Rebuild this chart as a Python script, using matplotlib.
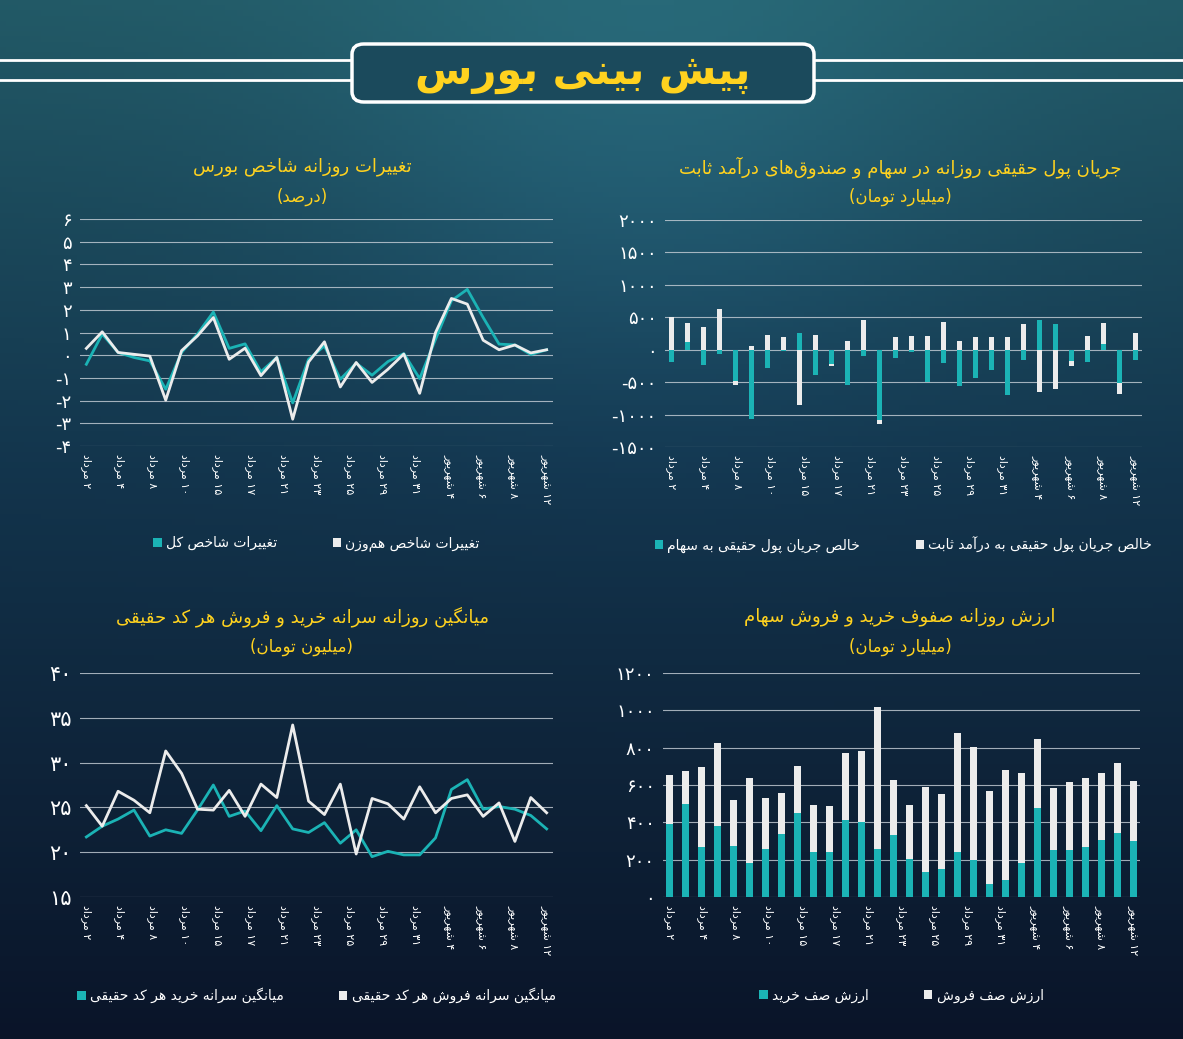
import numpy as np
import matplotlib
matplotlib.use("Agg")
import matplotlib.pyplot as plt
from matplotlib.patches import FancyBboxPatch, Patch

# ---------------- data ----------------
x_labels = ["۲ مرداد", "۴ مرداد", "۸ مرداد", "۱۰ مرداد", "۱۵ مرداد", "۱۷ مرداد", "۲۱ مرداد",
            "۲۳ مرداد", "۲۵ مرداد", "۲۹ مرداد", "۳۱ مرداد", "۴ شهریور", "۶ شهریور", "۸ شهریور", "۱۲ شهریور"]

idx_total = [-0.4, 0.93, 0.12, -0.1, -0.25, -1.5, 0.12, 0.93, 1.9, 0.3, 0.5, -0.73, -0.1, -2.1, -0.18,
             0.41, -1.06, -0.35, -0.88, -0.28, 0.07, -1.03, 0.7, 2.4, 2.9, 1.66, 0.49, 0.45, 0.03, 0.24]
idx_equal = [0.3, 1.03, 0.12, 0.04, -0.04, -1.98, 0.2, 0.85, 1.66, -0.18, 0.31, -0.9, -0.1, -2.82, -0.3,
             0.59, -1.4, -0.32, -1.2, -0.62, 0.05, -1.68, 1.0, 2.5, 2.25, 0.66, 0.24, 0.45, 0.1, 0.24]

flow_equity = [-190, 125, -230, -65, -475, -1065, -275, -20, 250, -395, -215, -545, -100, -1080, -130,
               -30, -500, -205, -565, -440, -320, -695, -155, 465, 400, -180, -190, 90, -515, -155]
flow_fixed = [500, 410, 355, 630, -540, 50, 225, 200, -855, 230, -250, 140, 460, -1150, 200,
              210, 210, 420, 140, 195, 195, 200, 400, -655, -610, -245, 215, 410, -680, 255]

buy_pc = [21.7, 22.9, 23.7, 24.7, 21.8, 22.5, 22.1, 24.7, 27.5, 24.0, 24.6, 22.4, 25.2, 22.6, 22.2,
          23.3, 21.0, 22.5, 19.5, 20.1, 19.7, 19.7, 21.6, 27.0, 28.1, 24.8, 25.1, 24.8, 24.1, 22.6]
sell_pc = [25.2, 22.9, 26.8, 25.8, 24.4, 31.3, 28.8, 24.8, 24.7, 26.9, 24.0, 27.6, 26.1, 34.2, 25.7,
           24.2, 27.6, 19.8, 26.0, 25.4, 23.7, 27.3, 24.4, 26.0, 26.4, 24.0, 25.5, 21.2, 26.1, 24.4]

queue_buy = [390, 500, 270, 380, 275, 180, 255, 340, 450, 240, 240, 410, 400, 255, 330,
             205, 135, 150, 240, 200, 70, 90, 180, 475, 250, 250, 270, 305, 345, 300]
queue_sell = [265, 175, 425, 445, 245, 455, 275, 215, 250, 255, 250, 360, 380, 765, 295,
              290, 455, 400, 640, 605, 500, 590, 485, 370, 335, 365, 365, 360, 375, 320]

TEAL = "#1bb3b5"
WHITE = "#ececec"
YELLOW = "#ffd21f"

# ---------------- simple Persian shaping ----------------
FORMS = {
    'ا': (0xFE8D, 0xFE8E, None, None), 'آ': (0xFE81, 0xFE82, None, None),
    'ب': (0xFE8F, 0xFE90, 0xFE91, 0xFE92), 'پ': (0xFB56, 0xFB57, 0xFB58, 0xFB59),
    'ت': (0xFE95, 0xFE96, 0xFE97, 0xFE98), 'ث': (0xFE99, 0xFE9A, 0xFE9B, 0xFE9C),
    'ج': (0xFE9D, 0xFE9E, 0xFE9F, 0xFEA0), 'ح': (0xFEA1, 0xFEA2, 0xFEA3, 0xFEA4),
    'خ': (0xFEA5, 0xFEA6, 0xFEA7, 0xFEA8), 'د': (0xFEA9, 0xFEAA, None, None),
    'ر': (0xFEAD, 0xFEAE, None, None), 'ز': (0xFEAF, 0xFEB0, None, None),
    'س': (0xFEB1, 0xFEB2, 0xFEB3, 0xFEB4), 'ش': (0xFEB5, 0xFEB6, 0xFEB7, 0xFEB8),
    'ص': (0xFEB9, 0xFEBA, 0xFEBB, 0xFEBC), 'غ': (0xFECD, 0xFECE, 0xFECF, 0xFED0),
    'ف': (0xFED1, 0xFED2, 0xFED3, 0xFED4), 'ق': (0xFED5, 0xFED6, 0xFED7, 0xFED8),
    'ک': (0xFB8E, 0xFB8F, 0xFB90, 0xFB91), 'گ': (0xFB92, 0xFB93, 0xFB94, 0xFB95),
    'ل': (0xFEDD, 0xFEDE, 0xFEDF, 0xFEE0),
    'م': (0xFEE1, 0xFEE2, 0xFEE3, 0xFEE4), 'ن': (0xFEE5, 0xFEE6, 0xFEE7, 0xFEE8),
    'و': (0xFEED, 0xFEEE, None, None), 'ه': (0xFEE9, 0xFEEA, 0xFEEB, 0xFEEC),
    'ی': (0xFBFC, 0xFBFD, 0xFBFE, 0xFBFF),
}
MIRROR = {'(': ')', ')': '('}


def fa(s):
    out = []
    n = len(s)
    for i, c in enumerate(s):
        if c not in FORMS:
            if c != '\u200c':
                out.append(MIRROR.get(c, c))
            continue
        f = FORMS[c]
        prev = s[i - 1] if i > 0 else ''
        nxt = s[i + 1] if i + 1 < n else ''
        jp = prev in FORMS and FORMS[prev][2] is not None
        jn = f[2] is not None and nxt in FORMS
        if jp and jn:
            code = f[3]
        elif jp:
            code = f[1]
        elif jn:
            code = f[2]
        else:
            code = f[0]
        out.append(chr(code))
    out = out[::-1]
    res, run = [], []
    for ch in out:
        if '\u06f0' <= ch <= '\u06f9' or ch.isdigit():
            run.append(ch)
        else:
            res.extend(run[::-1]); run = []
            res.append(ch)
    res.extend(run[::-1])
    return ''.join(res)


def fanum(v):
    s = str(int(v)) if float(v).is_integer() else str(v)
    return s.translate(str.maketrans('0123456789', '۰۱۲۳۴۵۶۷۸۹'))


plt.rcParams['font.family'] = 'DejaVu Sans'

W, H = 1183, 1039
fig = plt.figure(figsize=(W / 100, H / 100), dpi=100)

# background gradient
bg = fig.add_axes([0, 0, 1, 1])
yy, xx = np.mgrid[0:1:200j, 0:1:200j]
top = np.array([40, 105, 120]) / 255
mid = np.array([22, 62, 90]) / 255
bot = np.array([12, 24, 48]) / 255
t = yy[..., None]
img = np.where(t < 0.45, top + (mid - top) * (t / 0.45), mid + (bot - mid) * ((t - 0.45) / 0.55))
img = img * (0.85 + 0.2 * np.exp(-((xx[..., None] - 0.55) ** 2 + (yy[..., None] - 0.15) ** 2) / 0.08))
img = np.clip(img, 0, 1)
bg.imshow(img, aspect='auto', extent=[0, 1, 1, 0])
bg.set_xlim(0, 1); bg.set_ylim(1, 0)
bg.axis('off')

# header
for yl in (60, 80):
    bg.plot([0, 350 / W], [yl / H, yl / H], color='white', lw=2)
    bg.plot([815 / W, 1], [yl / H, yl / H], color='white', lw=2)
box = FancyBboxPatch((352 / W, 44 / H), 462 / W, 58 / H, boxstyle="round,pad=0,rounding_size=0.01",
                     fc="#1b4a5c", ec='white', lw=2.5, transform=bg.transData)
bg.add_patch(box)
fig.text(583 / W, 1 - 73 / H, fa("پیش بینی بورس"), color=YELLOW, fontsize=30, fontweight='bold',
         ha='center', va='center')


def px_axes(l, t_, r, b):
    return fig.add_axes([l / W, 1 - b / H, (r - l) / W, (b - t_) / H])


def style(ax, ylim, yticks):
    ax.set_facecolor('none')
    for s in ax.spines.values():
        s.set_visible(False)
    ax.set_ylim(*ylim)
    ax.set_yticks(yticks)
    ax.set_yticklabels([('-' + fanum(-v)) if v < 0 else fanum(v) for v in yticks], color='white', fontsize=13)
    ax.grid(axis='y', color='#c8d0d8', lw=0.8, alpha=0.8)
    ax.set_axisbelow(True)
    ax.tick_params(length=0, pad=6)
    ax.set_xlim(-0.4, 29.4)
    ax.set_xticks(np.linspace(0, 29, len(x_labels)))
    ax.set_xticklabels([fa(s) for s in x_labels], rotation=-90, color='white', fontsize=8, va='top', ha='center')


def titles(cx, y1, y2, t1, t2):
    fig.text(cx / W, 1 - y1 / H, fa(t1), color=YELLOW, fontsize=13, ha='center', va='center')
    fig.text(cx / W, 1 - y2 / H, fa(t2), color=YELLOW, fontsize=12, ha='center', va='center')


def legend(ax, y, items):
    handles = [Patch(fc=c, ec='none', label=fa(l)) for c, l in items]
    ax.legend(handles=handles, loc='center', bbox_to_anchor=(0.5, y), ncol=2, frameon=False,
              labelcolor='white', fontsize=10, handlelength=0.6, handleheight=0.6, columnspacing=4,
              handletextpad=0.3)


x = np.arange(30)

# top-left
ax1 = px_axes(80, 219, 553, 446)
style(ax1, (-4, 6), list(range(-4, 7)))
ax1.plot(x, idx_total, color=TEAL, lw=2)
ax1.plot(x, idx_equal, color=WHITE, lw=2)
titles(302, 167, 197, "تغییرات روزانه شاخص بورس", "(درصد)")
legend(ax1, -0.43, [(TEAL, "تغییرات شاخص کل"), (WHITE, "تغییرات شاخص هم‌وزن")])

# top-right
ax2 = px_axes(665, 220, 1142, 447)
style(ax2, (-1500, 2000), list(range(-1500, 2001, 500)))
ax2.bar(x, flow_fixed, width=0.33, color=WHITE)
ax2.bar(x, flow_equity, width=0.33, color=TEAL)
titles(900, 167, 197, "جریان پول حقیقی روزانه در سهام و صندوق‌های درآمد ثابت", "(میلیارد تومان)")
legend(ax2, -0.43, [(TEAL, "خالص جریان پول حقیقی به سهام"), (WHITE, "خالص جریان پول حقیقی به درآمد ثابت")])

# bottom-left
ax3 = px_axes(80, 673, 553, 897)
style(ax3, (15, 40), list(range(15, 41, 5)))
ax3.tick_params(axis='y', labelsize=15)
ax3.plot(x, buy_pc, color=TEAL, lw=2)
ax3.plot(x, sell_pc, color=WHITE, lw=2)
titles(302, 617, 647, "میانگین روزانه سرانه خرید و فروش هر کد حقیقی", "(میلیون تومان)")
legend(ax3, -0.44, [(TEAL, "میانگین سرانه خرید هر کد حقیقی"), (WHITE, "میانگین سرانه فروش هر کد حقیقی")])

# bottom-right
ax4 = px_axes(663, 673, 1140, 897)
style(ax4, (0, 1200), list(range(0, 1201, 200)))
ax4.bar(x, queue_buy, width=0.42, color=TEAL)
ax4.bar(x, queue_sell, width=0.42, bottom=queue_buy, color=WHITE)
titles(900, 617, 647, "ارزش روزانه صفوف خرید و فروش سهام", "(میلیارد تومان)")
legend(ax4, -0.44, [(TEAL, "ارزش صف خرید"), (WHITE, "ارزش صف فروش")])

fig.savefig("out.png", dpi=100)
